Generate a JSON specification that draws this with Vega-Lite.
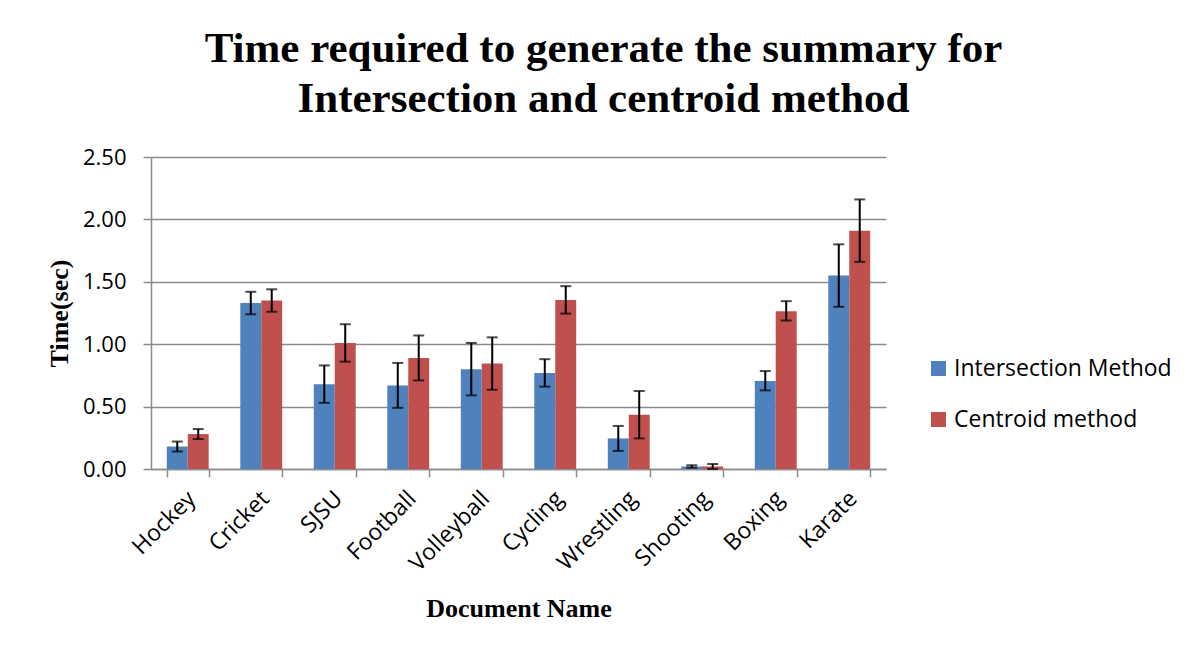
{
  "$schema": "https://vega.github.io/schema/vega-lite/v6.json",
  "width": 735,
  "height": 312,
  "autosize": {"type": "none"},
  "padding": {"left": 151, "top": 157, "right": 316, "bottom": 182},
  "background": "white",
  "title": {
    "text": ["Time required to generate the summary for", "Intersection and centroid method"],
    "font": "Liberation Serif",
    "fontSize": 43,
    "fontWeight": "bold",
    "color": "black",
    "anchor": "middle",
    "dx": 85,
    "lineHeight": 50,
    "offset": 25
  },
  "data": {
    "values": [
      {"doc": "Hockey", "series": "Intersection Method", "time": 0.18, "lo": 0.14, "hi": 0.22},
      {"doc": "Hockey", "series": "Centroid method", "time": 0.28, "lo": 0.24, "hi": 0.32},
      {"doc": "Cricket", "series": "Intersection Method", "time": 1.33, "lo": 1.24, "hi": 1.42},
      {"doc": "Cricket", "series": "Centroid method", "time": 1.35, "lo": 1.26, "hi": 1.44},
      {"doc": "SJSU", "series": "Intersection Method", "time": 0.68, "lo": 0.53, "hi": 0.83},
      {"doc": "SJSU", "series": "Centroid method", "time": 1.01, "lo": 0.86, "hi": 1.16},
      {"doc": "Football", "series": "Intersection Method", "time": 0.67, "lo": 0.49, "hi": 0.85},
      {"doc": "Football", "series": "Centroid method", "time": 0.89, "lo": 0.71, "hi": 1.07},
      {"doc": "Volleyball", "series": "Intersection Method", "time": 0.80, "lo": 0.59, "hi": 1.01},
      {"doc": "Volleyball", "series": "Centroid method", "time": 0.845, "lo": 0.635, "hi": 1.055},
      {"doc": "Cycling", "series": "Intersection Method", "time": 0.77, "lo": 0.66, "hi": 0.88},
      {"doc": "Cycling", "series": "Centroid method", "time": 1.355, "lo": 1.245, "hi": 1.465},
      {"doc": "Wrestling", "series": "Intersection Method", "time": 0.245, "lo": 0.145, "hi": 0.345},
      {"doc": "Wrestling", "series": "Centroid method", "time": 0.435, "lo": 0.245, "hi": 0.625},
      {"doc": "Shooting", "series": "Intersection Method", "time": 0.02, "lo": 0.01, "hi": 0.03},
      {"doc": "Shooting", "series": "Centroid method", "time": 0.02, "lo": 0.0, "hi": 0.04},
      {"doc": "Boxing", "series": "Intersection Method", "time": 0.705, "lo": 0.63, "hi": 0.785},
      {"doc": "Boxing", "series": "Centroid method", "time": 1.265, "lo": 1.19, "hi": 1.345},
      {"doc": "Karate", "series": "Intersection Method", "time": 1.55, "lo": 1.30, "hi": 1.80},
      {"doc": "Karate", "series": "Centroid method", "time": 1.91, "lo": 1.66, "hi": 2.16}
    ]
  },
  "encoding": {
    "x": {
      "field": "doc",
      "type": "nominal",
      "sort": null,
      "scale": {"paddingInner": 0.43, "paddingOuter": 0.215},
      "axis": {
        "title": "Document Name",
        "titleFont": "Liberation Serif",
        "titleFontSize": 26,
        "titleFontWeight": "bold",
        "titleColor": "black",
        "titlePadding": 20,
        "labelAngle": -45,
        "labelFont": "Open Sans",
        "labelFontSize": 23,
        "labelColor": "black",
        "labelPadding": 10,
        "labelOffset": -4,
        "tickBand": "extent",
        "tickSize": 8,
        "tickColor": "#8c8c8c",
        "tickWidth": 1.5,
        "domainColor": "#8c8c8c",
        "domainWidth": 1.5,
        "grid": false
      }
    },
    "xOffset": {
      "field": "series",
      "sort": ["Intersection Method", "Centroid method"],
      "scale": {"paddingInner": 0, "paddingOuter": 0}
    }
  },
  "layer": [
    {
      "mark": {"type": "bar"},
      "encoding": {
        "y": {
          "field": "time",
          "type": "quantitative",
          "scale": {"domain": [0, 2.5], "nice": false},
          "axis": {
            "title": "Time(sec)",
            "titleFont": "Liberation Serif",
            "titleFontSize": 26,
            "titleFontWeight": "bold",
            "titleColor": "black",
            "titlePadding": 10,
            "values": [0, 0.5, 1, 1.5, 2, 2.5],
            "format": ".2f",
            "labelFont": "Open Sans",
            "labelFontSize": 22,
            "labelColor": "black",
            "labelPadding": 17,
            "tickSize": 8,
            "tickColor": "#8c8c8c",
            "tickWidth": 1.5,
            "domainColor": "#8c8c8c",
            "domainWidth": 1.5,
            "gridColor": "#8c8c8c",
            "gridWidth": 1.5
          }
        },
        "color": {
          "field": "series",
          "type": "nominal",
          "sort": ["Intersection Method", "Centroid method"],
          "scale": {"domain": ["Intersection Method", "Centroid method"], "range": ["#4F81BD", "#C0504D"]},
          "legend": {
            "title": null,
            "orient": "none",
            "legendX": 776,
            "legendY": 200,
            "symbolType": "square",
            "symbolSize": 225,
            "symbolStrokeWidth": 0,
            "labelFont": "Open Sans",
            "labelFontSize": 23,
            "labelColor": "black",
            "labelOffset": 4,
            "labelLimit": 400,
            "rowPadding": 27
          }
        }
      }
    },
    {
      "mark": {"type": "rule", "color": "black", "strokeWidth": 2},
      "encoding": {
        "y": {"field": "lo", "type": "quantitative"},
        "y2": {"field": "hi"}
      }
    },
    {
      "mark": {"type": "tick", "color": "black", "thickness": 2, "size": 11},
      "encoding": {
        "y": {"field": "lo", "type": "quantitative"}
      }
    },
    {
      "mark": {"type": "tick", "color": "black", "thickness": 2, "size": 11},
      "encoding": {
        "y": {"field": "hi", "type": "quantitative"}
      }
    }
  ],
  "config": {
    "view": {"stroke": null}
  }
}
